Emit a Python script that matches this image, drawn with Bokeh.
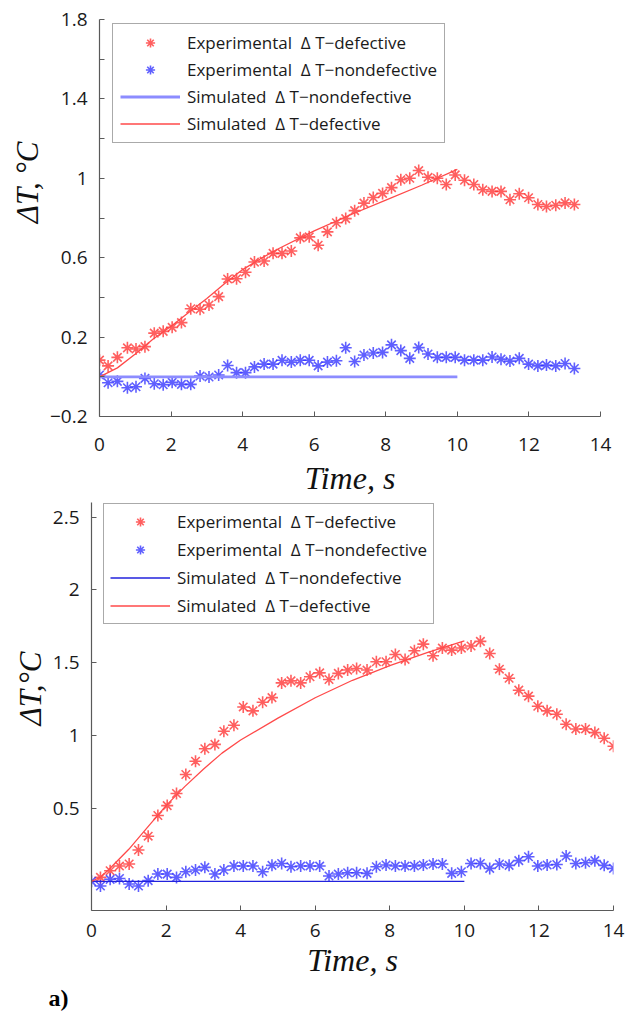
from bokeh.plotting import figure
from bokeh.models import Range1d, FixedTicker, Legend, LegendItem, Title
from bokeh.embed import file_html
from bokeh.resources import INLINE

# ---------------- data ----------------
top_t = [0.0, 0.24, 0.5, 0.78, 1.02, 1.27, 1.53, 1.78, 2.03, 2.29,
         2.55, 2.81, 3.06, 3.33, 3.58, 3.83, 4.08, 4.33, 4.6, 4.85,
         5.1, 5.36, 5.61, 5.86, 6.11, 6.37, 6.62, 6.88, 7.13, 7.39,
         7.65, 7.91, 8.16, 8.42, 8.67, 8.92, 9.18, 9.44, 9.69, 9.94,
         10.2, 10.46, 10.71, 10.97, 11.22, 11.47, 11.73, 11.99, 12.25, 12.49,
         12.75, 13.01, 13.27]
top_exp_def = [0.084, 0.055, 0.098, 0.146, 0.14, 0.152, 0.22, 0.229, 0.249, 0.273,
               0.343, 0.34, 0.362, 0.404, 0.493, 0.494, 0.527, 0.578, 0.583, 0.622,
               0.622, 0.634, 0.70, 0.705, 0.663, 0.73, 0.776, 0.797, 0.837, 0.875,
               0.903, 0.924, 0.953, 0.993, 1.0, 1.039, 1.005, 1.0, 0.969, 1.017,
               0.99, 0.969, 0.942, 0.934, 0.934, 0.892, 0.922, 0.902, 0.868, 0.858,
               0.864, 0.876, 0.868]
top_exp_non = [0.009, -0.03, -0.023, -0.055, -0.05, -0.008, -0.035, -0.04, -0.028, -0.038,
               -0.038, 0.004, -0.001, 0.009, 0.057, 0.021, 0.021, 0.05, 0.064, 0.064,
               0.083, 0.074, 0.083, 0.083, 0.055, 0.074, 0.081, 0.146, 0.077, 0.11,
               0.12, 0.123, 0.161, 0.132, 0.093, 0.147, 0.115, 0.098, 0.098, 0.098,
               0.084, 0.084, 0.084, 0.1, 0.089, 0.079, 0.093, 0.064, 0.055, 0.059,
               0.055, 0.067, 0.042]
top_sim_t = [0, 0.5, 1, 1.5, 2, 2.5, 3, 3.5, 4, 4.5, 5, 6, 7, 8, 9, 10]
top_sim_def = [0.0, 0.045, 0.115, 0.19, 0.255, 0.325, 0.395, 0.47, 0.54, 0.595, 0.645,
               0.735, 0.815, 0.89, 0.965, 1.045]
top_sim_non_t = [0, 10]
top_sim_non = [0.0, 0.0]

bot_t = [0.0, 0.24, 0.5, 0.75, 1.01, 1.26, 1.52, 1.78, 2.03, 2.28,
         2.53, 2.79, 3.04, 3.31, 3.55, 3.82, 4.07, 4.33, 4.59, 4.84,
         5.1, 5.35, 5.61, 5.86, 6.12, 6.37, 6.62, 6.87, 7.11, 7.39,
         7.64, 7.9, 8.15, 8.41, 8.66, 8.9, 9.16, 9.41, 9.66, 9.92,
         10.18, 10.43, 10.68, 10.94, 11.2, 11.46, 11.72, 11.97, 12.22, 12.48,
         12.73, 12.99, 13.25, 13.5, 13.75, 14.0]
bot_exp_def_t = bot_t[1:]
bot_exp_def = [0.027, 0.073, 0.105, 0.119, 0.215, 0.31, 0.452, 0.52, 0.603,
               0.733, 0.824, 0.91, 0.94, 1.03, 1.071, 1.197, 1.17, 1.229, 1.261,
               1.362, 1.376, 1.362, 1.404, 1.431, 1.385, 1.427, 1.45, 1.461, 1.45,
               1.507, 1.507, 1.557, 1.523, 1.583, 1.628, 1.548, 1.601, 1.587, 1.601,
               1.615, 1.647, 1.564, 1.456, 1.394, 1.312, 1.271, 1.202, 1.17, 1.147,
               1.078, 1.046, 1.046, 1.021, 0.982, 0.927]
bot_exp_non = [0.0, -0.032, 0.014, 0.02, -0.018, -0.032, 0.005, 0.05, 0.05, 0.027,
               0.066, 0.078, 0.096, 0.05, 0.078, 0.105, 0.105, 0.105, 0.066, 0.11,
               0.123, 0.1, 0.105, 0.105, 0.105, 0.037, 0.05, 0.059, 0.059, 0.055,
               0.1, 0.112, 0.105, 0.105, 0.105, 0.112, 0.119, 0.119, 0.055, 0.066,
               0.123, 0.123, 0.089, 0.119, 0.11, 0.142, 0.169, 0.105, 0.112, 0.116,
               0.174, 0.123, 0.128, 0.142, 0.11, 0.089]
bot_sim_t = [0, 0.25, 0.5, 1, 1.5, 2, 2.5, 3, 3.5, 4, 5, 6, 7, 8, 9, 10]
bot_sim_def = [0.0, 0.03, 0.09, 0.22, 0.37, 0.52, 0.65, 0.77, 0.88, 0.97, 1.12, 1.26,
               1.38, 1.48, 1.57, 1.65]
bot_sim_non_t = [0, 10]
bot_sim_non = [0.0, 0.0]

x_ticks = [0, 2, 4, 6, 8, 10, 12, 14]
top_y_ticks = [-0.2, 0.2, 0.6, 1.0, 1.4, 1.8]
top_y_labels = ["\u22120.2", "0.2", "0.6", "1", "1.4", "1.8"]
top_y_minor = [0.0, 0.4, 0.8, 1.2, 1.6]
bot_y_ticks = [0.5, 1.0, 1.5, 2.0, 2.5]
bot_y_labels = ["0.5", "1", "1.5", "2", "2.5"]

legend_labels = ["Experimental  \u0394 T\u2212defective",
                 "Experimental  \u0394 T\u2212nondefective",
                 "Simulated  \u0394 T\u2212nondefective",
                 "Simulated  \u0394 T\u2212defective"]

RED = "#ff2a2a"
BLUE = "#2a2aff"
AXC = "#5a5a5a"
TICKFONT = "Open Sans"
SERIF = "Liberation Serif"


def style(p, yticks, ylabels, yminor):
    p.grid.visible = False
    p.outline_line_color = None
    p.background_fill_color = "white"
    p.border_fill_color = "white"
    p.xaxis.ticker = FixedTicker(ticks=x_ticks)
    p.yaxis.ticker = FixedTicker(ticks=yticks, minor_ticks=yminor)
    p.yaxis.major_label_overrides = {v: s for v, s in zip(yticks, ylabels)}
    for ax in p.axis:
        ax.axis_line_color = AXC
        ax.axis_line_width = 1.2
        ax.major_tick_line_color = AXC
        ax.minor_tick_line_color = AXC
        ax.major_tick_in = 5
        ax.major_tick_out = 0
        ax.minor_tick_in = 5
        ax.minor_tick_out = 0
        ax.major_label_text_font = TICKFONT
        ax.major_label_text_font_size = "19px"
        ax.major_label_text_color = "#1a1a1a"
    p.xaxis.axis_label = "Time, s"
    p.xaxis.axis_label_text_font = SERIF
    p.xaxis.axis_label_text_font_style = "italic"
    p.xaxis.axis_label_text_font_size = "32px"
    p.xaxis.axis_label_text_color = "#111111"
    p.yaxis.major_label_standoff = 12


def ylab(p, text, offset):
    p.add_layout(Title(text=text, align="right", offset=offset,
                       text_font=SERIF, text_font_style="italic",
                       text_font_size="31px", text_color="#111111",
                       standoff=4), "left")


def draw(p, t_def, y_def, t_non, y_non, st_def, sy_def, st_non, sy_non,
         non_color, non_width, loc, padding, spacing):
    r1 = p.scatter(t_def, y_def, marker="asterisk", size=12, line_color=RED,
                   line_width=1.6, line_alpha=0.75)
    r2 = p.scatter(t_non, y_non, marker="asterisk", size=12, line_color=BLUE,
                   line_width=1.6, line_alpha=0.75)
    r3 = p.line(st_non, sy_non, line_color=non_color, line_width=non_width)
    r4 = p.line(st_def, sy_def, line_color="#ff4a4a", line_width=1.3)
    items = [LegendItem(label=legend_labels[0], renderers=[r1]),
             LegendItem(label=legend_labels[1], renderers=[r2]),
             LegendItem(label=legend_labels[2], renderers=[r3]),
             LegendItem(label=legend_labels[3], renderers=[r4])]
    lg = Legend(items=items, location=loc, padding=padding, spacing=spacing,
                label_height=23, glyph_height=23, glyph_width=60,
                label_standoff=7, margin=0,
                label_text_font=TICKFONT, label_text_font_size="17px",
                label_text_color="#1a1a1a",
                border_line_color="#555555", border_line_width=1,
                background_fill_color="white", background_fill_alpha=1)
    p.add_layout(lg)


# ---------------- top panel ----------------
p1 = figure(width=615, height=502,
            x_range=Range1d(0, 14), y_range=Range1d(-0.2, 1.8),
            output_backend="svg", toolbar_location=None,
            min_border_left=99, min_border_top=19, min_border_right=15,
            min_border_bottom=86)
style(p1, top_y_ticks, top_y_labels, top_y_minor)
p1.xaxis.major_label_standoff = 21
p1.xaxis.axis_label_standoff = 6
draw(p1, top_t, top_exp_def, top_t, top_exp_non, top_sim_t, top_sim_def,
     top_sim_non_t, top_sim_non, "#8c8cff", 2.8, (13, 273), 7, 4)
ylab(p1, "\u0394T, \u00b0C", 122)

# ---------------- bottom panel ----------------
p2 = figure(width=627, height=510,
            x_range=Range1d(0, 14), y_range=Range1d(-0.2, 2.6),
            output_backend="svg", toolbar_location=None,
            min_border_left=91, min_border_top=0, min_border_right=14,
            min_border_bottom=102)
style(p2, bot_y_ticks, bot_y_labels, [])
p2.xaxis.major_label_standoff = 13
p2.xaxis.axis_label_standoff = 2
draw(p2, bot_exp_def_t, bot_exp_def, bot_t, bot_exp_non, bot_sim_t, bot_sim_def,
     bot_sim_non_t, bot_sim_non, "#2222dd", 1.3, (12, 286), 6, 5)
ylab(p2, "\u0394T,\u00b0C", 149)
p2.add_layout(Title(text="a)", align="left", offset=-43, text_font=SERIF,
                    text_font_style="bold", text_font_size="24px",
                    text_color="#000000", standoff=4), "below")

open("out.html", "w").write(file_html([p1, p2], INLINE))
